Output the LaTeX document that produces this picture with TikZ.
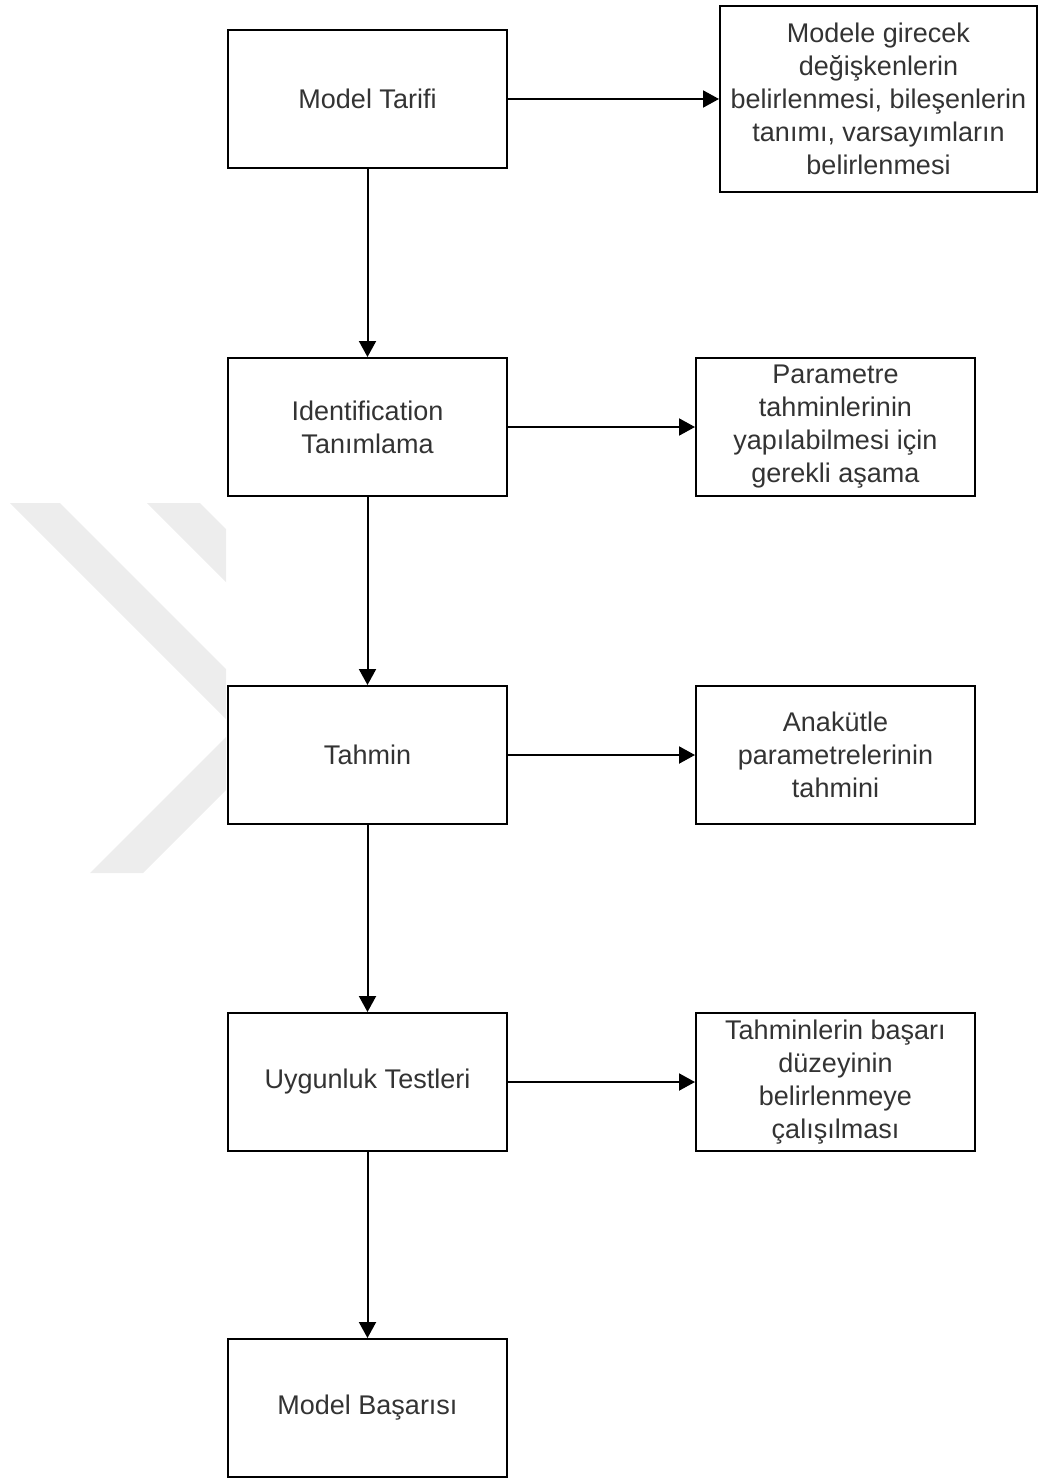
\documentclass[tikz,border=0pt]{standalone}
\usepackage{fontspec}
\setmainfont{Liberation Sans}
\usetikzlibrary{arrows.meta}

\begin{document}
\begin{tikzpicture}[x=1pt,y=-1pt,
  box/.style={draw=black, line width=2pt, minimum width=279pt, minimum height=138pt,
              align=center, inner sep=0pt, text=black!80,
              font=\fontsize{27}{33}\selectfont},
  widebox/.style={box, minimum width=317pt, minimum height=186pt},
  link/.style={line width=2pt, -{Triangle[length=16pt,width=17pt]}},
  watermark/.style={fill=black!7, draw=none}]

\useasboundingbox (0,0) rectangle (1041,1479);

% faint chevron watermark, cut off at the left column
\begin{scope}
  \clip (0,480) rectangle (226,900);
  \fill[watermark] (10,503) -- (60,503) -- (286.5,729.5) -- (143,873) -- (90,873) -- (235,728) -- cycle;
  \fill[watermark] (147,503) -- (200,503) -- (330,633) -- (277,633) -- cycle;
\end{scope}

% main chain
\node[box] (m1) at (367.5,99)   {Model Tarifi};
\node[box] (m2) at (367.5,427)  {Identification\\Tanımlama};
\node[box] (m3) at (367.5,755)  {Tahmin};
\node[box] (m4) at (367.5,1082) {Uygunluk Testleri};
\node[box] (m5) at (367.5,1408) {Model Başarısı};

% explanations
\node[widebox] (r1) at (878.5,99) {Modele girecek\\değişkenlerin\\belirlenmesi, bileşenlerin\\tanımı, varsayımların\\belirlenmesi};
\node[box] (r2) at (835.5,427)  {Parametre\\tahminlerinin\\yapılabilmesi için\\gerekli aşama};
\node[box] (r3) at (835.5,755)  {Anakütle\\parametrelerinin\\tahmini};
\node[box] (r4) at (835.5,1082) {Tahminlerin başarı\\düzeyinin\\belirlenmeye\\çalışılması};

\draw[link] (m1) -- (m2);
\draw[link] (m2) -- (m3);
\draw[link] (m3) -- (m4);
\draw[link] (m4) -- (m5);

\draw[link] (m1) -- (r1);
\draw[link] (m2) -- (r2);
\draw[link] (m3) -- (r3);
\draw[link] (m4) -- (r4);
\end{tikzpicture}
\end{document}
